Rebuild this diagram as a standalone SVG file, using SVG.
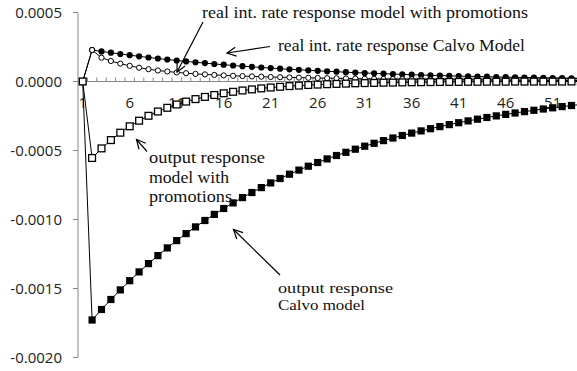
<svg xmlns="http://www.w3.org/2000/svg" width="577" height="371" viewBox="0 0 577 371">
<style>
.ax{stroke:#868686;stroke-width:1;fill:none}
.num{font-family:"Open Sans","Liberation Sans",sans-serif;font-size:15px;fill:#222}
.ylab{text-anchor:end}
.xlab{text-anchor:middle}
.ann{font-family:"Liberation Serif","DejaVu Serif",serif;font-size:16.5px;fill:#111}
.ann2{font-size:15px}
.ser{fill:none;stroke:#000;stroke-width:1}
.arr{stroke:#000;stroke-width:1.2;fill:none;marker-end:url(#ah)}
</style>
<defs>
<marker id="fsq" markerUnits="userSpaceOnUse" markerWidth="10" markerHeight="10" refX="5" refY="5" overflow="visible"><rect x="1.4" y="1.4" width="7.2" height="7.2" fill="#000"/></marker>
<marker id="osq" markerUnits="userSpaceOnUse" markerWidth="10" markerHeight="10" refX="5" refY="5" overflow="visible"><rect x="1.6" y="1.6" width="6.8" height="6.8" fill="#fff" stroke="#000" stroke-width="1.3"/></marker>
<marker id="fci" markerUnits="userSpaceOnUse" markerWidth="10" markerHeight="10" refX="5" refY="5" overflow="visible"><circle cx="5" cy="5" r="3.1" fill="#000"/></marker>
<marker id="oci" markerUnits="userSpaceOnUse" markerWidth="10" markerHeight="10" refX="5" refY="5" overflow="visible"><circle cx="5" cy="5" r="2.6" fill="#fff" stroke="#000" stroke-width="1"/></marker>
<marker id="ah" markerUnits="userSpaceOnUse" markerWidth="12" markerHeight="12" refX="0" refY="0" orient="auto" overflow="visible"><path d="M-9,-4.5 L0,0 L-9,4.5" fill="none" stroke="#000" stroke-width="1.2"/></marker>
</defs>
<rect width="577" height="371" fill="#fff"/>
<g id="axes">
<path class="ax" d="M78 12.5V357.5M73 12.5H78M73 81.5H78M73 150.5H78M73 219.5H78M73 288.5H78M73 357.5H78M78 81.5H577"/>
<path class="ax" d="M87.4 81.5v-4m9.4 4v-4m9.4 4v-4m9.4 4v-4m9.4 4v-4m9.4 4v-4m9.4 4v-4m9.4 4v-4m9.4 4v-4m9.4 4v-4m9.4 4v-4m9.4 4v-4m9.4 4v-4m9.4 4v-4m9.4 4v-4m9.4 4v-4m9.4 4v-4m9.4 4v-4m9.4 4v-4m9.4 4v-4m9.4 4v-4m9.4 4v-4m9.4 4v-4m9.4 4v-4m9.4 4v-4m9.4 4v-4m9.4 4v-4m9.4 4v-4m9.4 4v-4m9.4 4v-4m9.4 4v-4m9.4 4v-4m9.4 4v-4m9.4 4v-4m9.4 4v-4m9.4 4v-4m9.4 4v-4m9.4 4v-4m9.4 4v-4m9.4 4v-4m9.4 4v-4m9.4 4v-4m9.4 4v-4m9.4 4v-4m9.4 4v-4m9.4 4v-4m9.4 4v-4m9.4 4v-4m9.4 4v-4m9.4 4v-4m9.4 4v-4m9.4 4v-4m9.4 4v-4"/>
<g class="num ylab">
<text x="62" y="18">0.0005</text>
<text x="62" y="87">0.0000</text>
<text x="62" y="156">-0.0005</text>
<text x="62" y="225">-0.0010</text>
<text x="62" y="294">-0.0015</text>
<text x="62" y="363">-0.0020</text>
</g>
<g class="num xlab">
<text x="82.7" y="108">1</text>
<text x="129.7" y="108">6</text>
<text x="176.7" y="108">11</text>
<text x="223.7" y="108">16</text>
<text x="270.7" y="108">21</text>
<text x="317.7" y="108">26</text>
<text x="364.7" y="108">31</text>
<text x="411.7" y="108">36</text>
<text x="458.7" y="108">41</text>
<text x="505.7" y="108">46</text>
<text x="552.7" y="108">51</text>
</g>
</g>
<g id="series">
<polyline id="output-calvo" class="ser" marker-start="url(#fsq)" marker-mid="url(#fsq)" marker-end="url(#fsq)" points="82.7,81.5 92.1,320 101.5,309.5 110.9,299.5 120.3,289.9 129.7,280.7 139.1,271.9 148.5,263.6 157.9,255.6 167.3,247.9 176.7,240.6 186.1,233.6 195.5,226.9 204.9,220.5 214.3,214.4 223.7,208.5 233.1,202.9 242.5,197.6 251.9,192.5 261.3,187.6 270.7,182.9 280.1,178.5 289.5,174.2 298.9,170.1 308.3,166.2 317.7,162.5 327.1,158.9 336.5,155.5 345.9,152.3 355.3,149.2 364.7,146.2 374.1,143.3 383.5,140.6 392.9,138 402.3,135.5 411.7,133.1 421.1,130.9 430.5,128.7 439.9,126.6 449.3,124.6 458.7,122.7 468.1,120.9 477.5,119.2 486.9,117.5 496.3,115.9 505.7,114.4 515.1,113 524.5,111.6 533.9,110.3 543.3,109 552.7,107.8 562.1,106.6 571.5,105.5 580.9,104.5"/>
<polyline id="rate-calvo" class="ser" marker-start="url(#fci)" marker-mid="url(#fci)" marker-end="url(#fci)" points="82.7,81.5 92.1,50 101.5,51.4 110.9,52.7 120.3,54 129.7,55.2 139.1,56.3 148.5,57.5 157.9,58.5 167.3,59.5 176.7,60.5 186.1,61.4 195.5,62.3 204.9,63.1 214.3,64 223.7,64.7 233.1,65.5 242.5,66.2 251.9,66.8 261.3,67.5 270.7,68.1 280.1,68.7 289.5,69.3 298.9,69.8 308.3,70.3 317.7,70.8 327.1,71.3 336.5,71.7 345.9,72.2 355.3,72.6 364.7,73 374.1,73.3 383.5,73.7 392.9,74 402.3,74.4 411.7,74.7 421.1,75 430.5,75.3 439.9,75.5 449.3,75.8 458.7,76.1 468.1,76.3 477.5,76.5 486.9,76.7 496.3,77 505.7,77.2 515.1,77.3 524.5,77.5 533.9,77.7 543.3,77.9 552.7,78 562.1,78.2 571.5,78.3 580.9,78.5"/>
<polyline id="rate-promotions" class="ser" marker-start="url(#oci)" marker-mid="url(#oci)" marker-end="url(#oci)" points="82.7,81.5 92.1,50 101.5,57.7 110.9,61 120.3,63.6 129.7,65.8 139.1,67.7 148.5,69.2 157.9,70.5 167.3,71.5 176.7,72.4 186.1,73.2 195.5,73.9 204.9,74.4 214.3,74.9 223.7,75.4 233.1,75.8 242.5,76.1 251.9,76.4 261.3,76.7 270.7,77 280.1,77.2 289.5,77.4 298.9,77.6 308.3,77.8 317.7,78 327.1,78.2 336.5,78.3 345.9,78.5 355.3,78.6 364.7,78.8 374.1,78.9 383.5,79 392.9,79.1 402.3,79.2 411.7,79.3 421.1,79.4 430.5,79.5 439.9,79.6 449.3,79.7 458.7,79.8 468.1,79.8 477.5,79.9 486.9,80 496.3,80 505.7,80.1 515.1,80.2 524.5,80.2 533.9,80.3 543.3,80.3 552.7,80.4 562.1,80.4 571.5,80.5 580.9,80.5"/>
<polyline id="output-promotions" class="ser" marker-start="url(#osq)" marker-mid="url(#osq)" marker-end="url(#osq)" points="82.7,81.5 92.1,158 101.5,148.4 110.9,140.1 120.3,132.7 129.7,126.3 139.1,120.7 148.5,115.8 157.9,111.5 167.3,107.8 176.7,104.5 186.1,101.6 195.5,99.1 204.9,96.9 214.3,95 223.7,93.3 233.1,91.8 242.5,90.5 251.9,89.4 261.3,88.4 270.7,87.5 280.1,86.8 289.5,86.1 298.9,85.6 308.3,85 317.7,84.6 327.1,84.2 336.5,83.9 345.9,83.6 355.3,83.3 364.7,83.1 374.1,82.9 383.5,82.7 392.9,82.6 402.3,82.4 411.7,82.3 421.1,82.2 430.5,82.1 439.9,82 449.3,81.9 458.7,81.9 468.1,81.8 477.5,81.8 486.9,81.7 496.3,81.7 505.7,81.7 515.1,81.6 524.5,81.6 533.9,81.6 543.3,81.6 552.7,81.6 562.1,81.6 571.5,81.5 580.9,81.5"/>
</g>
<g id="connectors">
<line class="arr" x1="203" y1="22" x2="177" y2="72"/>
<line class="arr" x1="270" y1="46.5" x2="227" y2="53"/>
<line class="arr" x1="147" y1="151.5" x2="136.5" y2="139.5"/>
<line class="arr" x1="280" y1="275" x2="233.5" y2="229.5"/>
</g>
<g id="label-rate-promotions"><text class="ann" x="202" y="18" textLength="326" lengthAdjust="spacingAndGlyphs">real int. rate response model with promotions</text></g>
<g id="label-rate-calvo"><text class="ann" x="278" y="50.5" textLength="247" lengthAdjust="spacingAndGlyphs">real int. rate response Calvo Model</text></g>
<g id="label-output-promotions" class="ann">
<text x="149" y="162.5" textLength="116" lengthAdjust="spacingAndGlyphs">output response</text>
<text x="149" y="182.5" textLength="80" lengthAdjust="spacingAndGlyphs">model with</text>
<text x="149" y="201.5" textLength="83" lengthAdjust="spacingAndGlyphs">promotions</text>
</g>
<g id="label-output-calvo" class="ann ann2">
<text x="278" y="292.5" textLength="115" lengthAdjust="spacingAndGlyphs">output response</text>
<text x="278" y="310" textLength="87" lengthAdjust="spacingAndGlyphs">Calvo model</text>
</g>
</svg>
